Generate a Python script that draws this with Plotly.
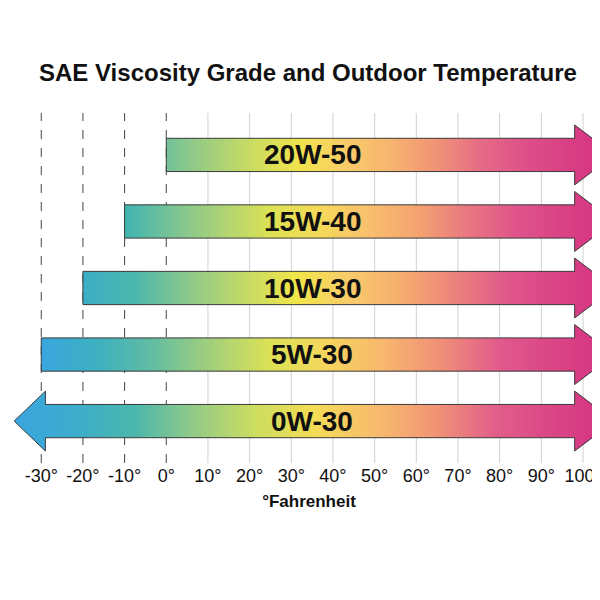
import plotly.graph_objects as go

# Data
grades = ["0W-30", "5W-30", "10W-30", "15W-40", "20W-50"]
low_temp = [-30, -30, -20, -10, 0]     # lowest outdoor temperature (°F)
high_temp = [100, 100, 100, 100, 100]  # arrows run past 100°F
open_low = [True, False, False, False, False]  # 0W-30 arrow continues below -30
tick_vals = [-30, -20, -10, 0, 10, 20, 30, 40, 50, 60, 70, 80, 90, 100]
tick_text = [f"{v}°" for v in tick_vals]

# colour ramp by temperature
ramp = [(-30, (58, 166, 223)), (-10, (62, 180, 178)), (5, (140, 200, 140)),
        (30, (240, 232, 70)), (45, (250, 200, 110)), (60, (245, 165, 110)),
        (80, (225, 90, 140)), (106, (212, 48, 128))]


def color_at(t):
    if t <= ramp[0][0]:
        return ramp[0][1]
    for (t0, c0), (t1, c1) in zip(ramp, ramp[1:]):
        if t <= t1:
            f = (t - t0) / (t1 - t0)
            return tuple(round(a + (b - a) * f) for a, b in zip(c0, c1))
    return ramp[-1][1]


def scale_for(x0, x1):
    out = []
    for i in range(11):
        f = i / 10
        c = color_at(x0 + (x1 - x0) * f)
        out.append([f, f"rgb{c}"])
    return out


fig = go.Figure()
body, head, head_len = 0.25, 0.45, 7.5

for i, g in enumerate(grades):
    y = i
    x0, x1 = low_temp[i], high_temp[i]
    tip = x1 + head_len
    xs = [x1 - 2, x1 - 2, tip, x1 - 2, x1 - 2]
    ys = [y + body, y + head, y, y - head, y - body]
    if open_low[i]:
        ltip = x0 - 6.5
        xs += [x0 + 1, x0 + 1, ltip, x0 + 1, x0 + 1]
        ys += [y - body, y - head, y, y + head, y + body]
        lo = ltip
    else:
        xs += [x0, x0]
        ys += [y - body, y + body]
        lo = x0
    xs.append(xs[0])
    ys.append(ys[0])
    fig.add_trace(go.Scatter(
        x=xs, y=ys, mode="lines", fill="toself",
        line=dict(color="#3a3a3a", width=1),
        fillgradient=dict(type="horizontal", colorscale=scale_for(lo, tip)),
        hoverinfo="skip", showlegend=False, cliponaxis=False))
    fig.add_annotation(x=35, y=y, text=f"<b>{g}</b>", showarrow=False,
                       font=dict(size=28, color="#111"))

for v in tick_vals:
    fig.add_shape(type="line", x0=v, x1=v, y0=0, y1=1, yref="paper",
                  layer="below",
                  line=dict(color="#444" if v <= 0 else "#d0d0d0", width=1,
                            dash="dash" if v <= 0 else "solid"))

fig.update_layout(
    width=600, height=600,
    margin=dict(l=2, r=0, t=105, b=145),
    paper_bgcolor="white", plot_bgcolor="white",
    font=dict(family="Liberation Sans, Arial, sans-serif", color="#111"),
    title=dict(text="<b>SAE Viscosity Grade and Outdoor Temperature</b>",
               x=0.5, xanchor="center", y=0.892, yanchor="middle",
               font=dict(size=24)),
    xaxis=dict(range=[-37.5, 106], tickvals=tick_vals, ticktext=tick_text,
               showgrid=False, zeroline=False, showline=False, automargin=False,
               tickfont=dict(size=18), ticks="", ticklabelstandoff=0,
               title=dict(text="<b>°Fahrenheit</b>", font=dict(size=17),
                          standoff=10)),
    yaxis=dict(range=[-0.63, 4.63], visible=False, automargin=False),
)

fig.write_html("out.html")
